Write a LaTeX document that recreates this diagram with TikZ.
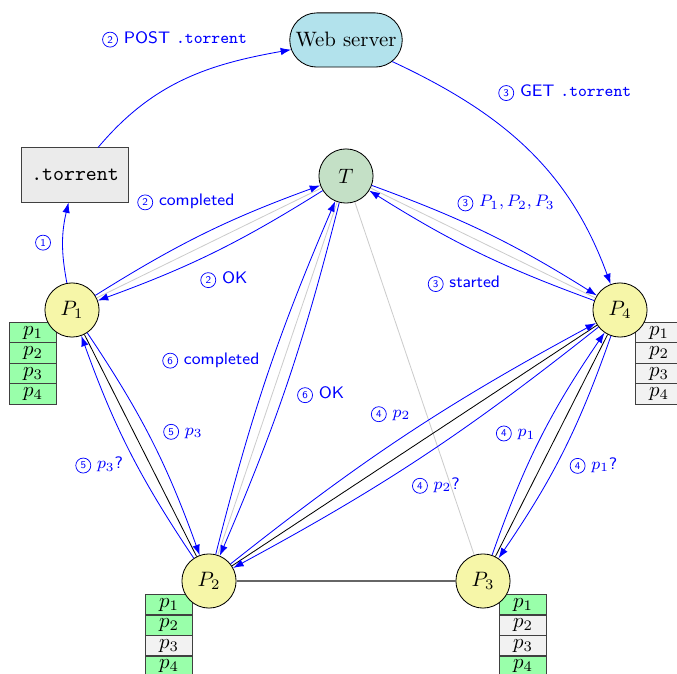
\documentclass[tikz,border=0pt]{standalone}
\usepackage{tikz}
\usepackage{amsmath}
\usetikzlibrary{arrows.meta,shapes.misc,backgrounds,positioning}

\definecolor{srvfill}{RGB}{178,226,236}
\definecolor{trkfill}{RGB}{196,224,198}
\definecolor{peerfill}{RGB}{246,246,168}
\definecolor{filefill}{RGB}{235,235,235}
\definecolor{havefill}{RGB}{153,255,170}
\definecolor{missfill}{RGB}{242,242,242}

% numero do passo dentro de um circulo
\newcommand{\passo}[1]{\tikz[baseline=(passo.base)]\node[circle, draw=blue, line width=0.35pt, inner sep=0.3pt, minimum size=7.2pt, font=\sffamily\tiny, text=blue] (passo) {#1};}

\tikzset{
  peer/.style={circle, draw, fill=peerfill, minimum size=26pt, inner sep=0pt},
  tracker/.style={circle, draw, fill=trkfill, minimum size=26pt, inner sep=0pt},
  server/.style={rounded rectangle, draw, fill=srvfill, minimum width=58pt, minimum height=26pt, inner sep=2pt},
  torrentfile/.style={rectangle, draw=black!75, fill=filefill, minimum width=51pt, minimum height=26pt},
  have/.style={rectangle, draw=black!75, fill=havefill, minimum width=22.6pt, minimum height=9.8pt, inner sep=0pt},
  miss/.style={have, fill=missfill},
  tlink/.style={black!20},
  plink/.style={black},
  msg/.style={->, blue},
  lbl/.style={font=\sffamily\footnotesize, text=blue, inner sep=1.5pt},
}

\begin{document}
\begin{tikzpicture}[x=0.48pt, y=0.48pt, >={Latex[length=5pt,width=3.6pt]}]
  \useasboundingbox (0,0) rectangle (677,673);
  %Servidor, tracker e peers
  \node[server] (web) at (346,633) {Web server};
  \node[torrentfile] (torrent) at (75,498) {\texttt{.torrent}};
  \node[tracker] (T) at (346,497) {$T$};
  \node[peer] (P1) at (72,363) {$P_1$};
  \node[peer] (P4) at (620,363) {$P_4$};
  \node[peer] (P2) at (209,92) {$P_2$};
  \node[peer] (P3) at (483,92) {$P_3$};
  %Pedacos de cada peer
  \begin{scope}[on background layer]
    \foreach \s [count=\i] in {have,have,have,have}
      \node[\s, anchor=north east] (P1p\i) at ([shift={(-15,{-12-(\i-1)*20.5})}]P1.center) {$p_\i$};
    \foreach \s [count=\i] in {miss,miss,miss,miss}
      \node[\s, anchor=north west] (P4p\i) at ([shift={(15,{-12-(\i-1)*20.5})}]P4.center) {$p_\i$};
    \foreach \s [count=\i] in {have,have,miss,have}
      \node[\s, anchor=north east] (P2p\i) at ([shift={(-16,{-13-(\i-1)*20.5})}]P2.center) {$p_\i$};
    \foreach \s [count=\i] in {have,miss,miss,have}
      \node[\s, anchor=north west] (P3p\i) at ([shift={(16,{-13-(\i-1)*20.5})}]P3.center) {$p_\i$};
  \end{scope}
  %Ligacoes
  \draw[tlink] (T) -- (P1) (T) -- (P4) (T) -- (P2) (T) -- (P3);
  \draw[plink] (P1) -- (P2) (P2) -- (P4) (P3) -- (P4);
  \draw[black!60, semithick] (P2) -- (P3);
  %Mensagens
  \draw[msg] (P1) to[bend left=12] node[lbl, left=4pt] {\passo{1}} (torrent);
  \draw[msg] (torrent) to[out=50, in=190] node[lbl, pos=0.45, above=16pt] {\passo{2} POST \texttt{.torrent}} (web);
  \draw[msg] (web) to[out=-25, in=110] node[lbl, pos=0.3, above right=3pt and 7pt] {\passo{3} GET \texttt{.torrent}} (P4);
  \draw[msg] (P1) to[bend left=6] node[lbl, pos=0.66, above left=2pt and 0pt] {\passo{2} completed} (T);
  \draw[msg] (T) to[bend left=6] node[lbl, pos=0.45, below=10pt] {\passo{2} OK} (P1);
  \draw[msg] (T) to[bend left=6] node[lbl, pos=0.34, above right=1.5pt and 0pt] {\passo{3} $P_1, P_2, P_3$} (P4);
  \draw[msg] (P4) to[bend left=6] node[lbl, pos=0.57, below=13pt] {\passo{3} started} (T);
  \draw[msg] (P2) to[bend left=4.5] node[lbl, pos=0.545, left=4.5pt] {\passo{6} completed} (T);
  \draw[msg] (T) to[bend left=4.5] node[lbl, pos=0.54, right=5pt] {\passo{6} OK} (P2);
  \draw[msg] (P1) to[bend left=7] node[lbl, pos=0.46, right=6pt] {\passo{5} $p_3$} (P2);
  \draw[msg] (P2) to[bend left=7] node[lbl, pos=0.43, left=5pt] {\passo{5} $p_3$?} (P1);
  \draw[msg] (P2) to[bend left=5] node[lbl, pos=0.52, above left=2pt and 0pt] {\passo{4} $p_2$} (P4);
  \draw[msg] (P4) to[bend left=5] node[lbl, pos=0.54, below right=4pt and 0pt] {\passo{4} $p_2$?} (P2);
  \draw[msg] (P3) to[bend left=7.5] node[lbl, pos=0.53, left=2pt] {\passo{4} $p_1$} (P4);
  \draw[msg] (P4) to[bend left=7.5] node[lbl, pos=0.57, right=5pt] {\passo{4} $p_1$?} (P3);
\end{tikzpicture}
\end{document}
